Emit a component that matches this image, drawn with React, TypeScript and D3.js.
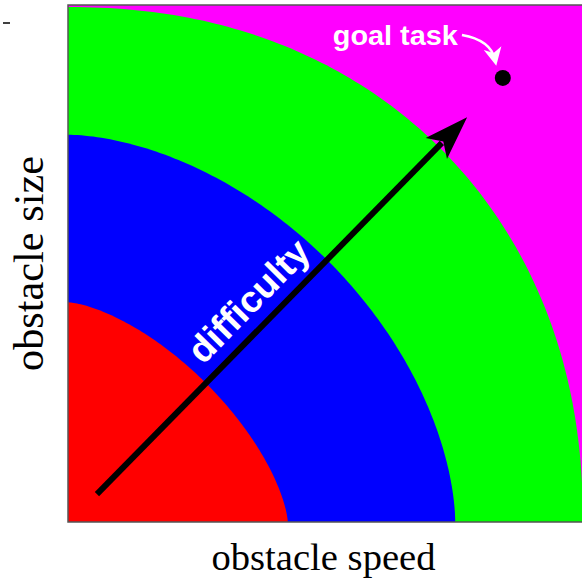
import React, { useRef, useEffect } from 'react';
import * as d3 from 'd3';

const width = 582;
const height = 578;
const margin = { top: 5, left: 68 };
const plotSize = 517;

// difficulty bands (normalised radius on the axes + curve exponent), outermost first
const bandNames = ['hard', 'medium', 'easy'];
const bandRadii = [0.996, 0.749, 0.425];
const bandExponents = [2.15, 1.75, 1.5];
const bandColors = ['#00ff00', '#0000ff', '#ff0000'];
const backgroundColor = '#ff00ff';

// difficulty arrow (speed, size)
const arrowFrom = [0.056, 0.054];
const arrowTo = [0.772, 0.783];

// goal task
const goalPoint = [0.841, 0.859];
const goalLabel = 'goal task';
const goalLabelPos = [0.754, 0.923];
const goalCurve = [
  [0.762, 0.942],
  [0.818, 0.932],
  [0.826, 0.894],
];

const xLabel = 'obstacle speed';
const yLabel = 'obstacle size';
const arrowLabel = 'difficulty';

const App: React.FC = () => {
  const ref = useRef<SVGSVGElement>(null);

  useEffect(() => {
    document.body.style.margin = '0';
    const svg = d3.select(ref.current);
    svg.selectAll('*').remove();

    const x = d3.scaleLinear().domain([0, 1]).range([margin.left, margin.left + plotSize]);
    const y = d3.scaleLinear().domain([0, 1]).range([margin.top + plotSize, margin.top]);

    const defs = svg.append('defs');
    defs
      .append('clipPath')
      .attr('id', 'plot-clip')
      .append('rect')
      .attr('x', x(0))
      .attr('y', y(1))
      .attr('width', plotSize)
      .attr('height', plotSize);

    const plot = svg.append('g').attr('clip-path', 'url(#plot-clip)');

    plot
      .append('rect')
      .attr('x', x(0))
      .attr('y', y(1))
      .attr('width', plotSize)
      .attr('height', plotSize)
      .attr('fill', backgroundColor);

    // quarter superellipse |u/r|^p + |v/r|^p = 1
    const band = (r: number, p: number) => {
      const pts: [number, number][] = [[0, 0]];
      const steps = 120;
      for (let k = 0; k <= steps; k++) {
        const t = (k / steps) * (Math.PI / 2);
        const u = r * Math.pow(Math.cos(t), 2 / p);
        const v = r * Math.pow(Math.sin(t), 2 / p);
        pts.push([u, v]);
      }
      return pts;
    };

    const line = d3
      .line<[number, number]>()
      .x((d) => x(d[0]))
      .y((d) => y(d[1]));

    plot
      .append('g')
      .selectAll('path')
      .data(bandRadii)
      .join('path')
      .attr('class', (_, i) => bandNames[i])
      .attr('d', (r, i) => line(band(r, bandExponents[i])) + 'Z')
      .attr('fill', (_, i) => bandColors[i]);

    // main arrow
    const x0 = x(arrowFrom[0]);
    const y0 = y(arrowFrom[1]);
    const x1 = x(arrowTo[0]);
    const y1 = y(arrowTo[1]);
    const ang = Math.atan2(y1 - y0, x1 - x0);
    const len = Math.hypot(x1 - x0, y1 - y0);
    const headLen = 44;
    const arrowG = plot
      .append('g')
      .attr('transform', `translate(${x0},${y0}) rotate(${(ang * 180) / Math.PI})`);
    arrowG
      .append('line')
      .attr('x1', 0)
      .attr('y1', 0)
      .attr('x2', len - headLen + 8)
      .attr('y2', 0)
      .attr('stroke', '#000')
      .attr('stroke-width', 6);
    arrowG
      .append('path')
      .attr(
        'd',
        `M${len},0 L${len - headLen},-15 L${len - headLen + 10},0 L${len - headLen},15 Z`,
      )
      .attr('fill', '#000');

    // difficulty label, parallel to the arrow
    arrowG
      .append('text')
      .attr('x', 244)
      .attr('y', -27)
      .attr('text-anchor', 'middle')
      .attr('dominant-baseline', 'central')
      .attr('fill', '#fff')
      .attr('font-family', 'Liberation Sans, Arial, sans-serif')
      .attr('font-weight', 'bold')
      .attr('font-size', 37)
      .attr('textLength', 156)
      .attr('lengthAdjust', 'spacingAndGlyphs')
      .text(arrowLabel);

    // goal point
    plot
      .append('circle')
      .attr('cx', x(goalPoint[0]))
      .attr('cy', y(goalPoint[1]))
      .attr('r', 8)
      .attr('fill', '#000');

    plot
      .append('text')
      .attr('x', x(goalLabelPos[0]))
      .attr('y', y(goalLabelPos[1]))
      .attr('text-anchor', 'end')
      .attr('fill', '#fff')
      .attr('font-family', 'Liberation Sans, Arial, sans-serif')
      .attr('font-weight', 'bold')
      .attr('font-size', 27)
      .attr('textLength', 125)
      .attr('lengthAdjust', 'spacingAndGlyphs')
      .text(goalLabel);

    const [c0, c1, c2] = goalCurve.map((p) => [x(p[0]), y(p[1])]);
    plot
      .append('path')
      .attr('d', `M${c0[0]},${c0[1]} Q${c1[0]},${c1[1]} ${c2[0]},${c2[1]}`)
      .attr('fill', 'none')
      .attr('stroke', '#fff')
      .attr('stroke-width', 2.5);
    const hAng = Math.atan2(c2[1] - c1[1], c2[0] - c1[0]);
    plot
      .append('path')
      .attr('transform', `translate(${c2[0]},${c2[1]}) rotate(${(hAng * 180) / Math.PI})`)
      .attr('d', 'M6,0 L-12,-9 L-7,0 L-12,9 Z')
      .attr('fill', '#fff');

    // frame
    svg
      .append('rect')
      .attr('x', x(0))
      .attr('y', y(1))
      .attr('width', plotSize)
      .attr('height', plotSize)
      .attr('fill', 'none')
      .attr('stroke', '#555')
      .attr('stroke-width', 1.5);

    // stray tick
    svg
      .append('line')
      .attr('x1', 3)
      .attr('x2', 10)
      .attr('y1', 23)
      .attr('y2', 23)
      .attr('stroke', '#000')
      .attr('stroke-width', 1.5);

    svg
      .append('text')
      .attr('x', x(0.5) - 3)
      .attr('y', 570)
      .attr('text-anchor', 'middle')
      .attr('font-family', 'Liberation Serif, Times New Roman, serif')
      .attr('font-size', 38)
      .attr('textLength', 224)
      .attr('lengthAdjust', 'spacingAndGlyphs')
      .text(xLabel);

    svg
      .append('text')
      .attr('transform', `translate(43,${y(0.5)}) rotate(-90)`)
      .attr('text-anchor', 'middle')
      .attr('font-family', 'Liberation Serif, Times New Roman, serif')
      .attr('font-size', 42)
      .attr('textLength', 215)
      .attr('lengthAdjust', 'spacingAndGlyphs')
      .text(yLabel);
  }, []);

  return (
    <svg
      ref={ref}
      width={width}
      height={height}
      style={{ position: 'absolute', left: 0, top: 0, background: '#fff' }}
    />
  );
};

export default App;
